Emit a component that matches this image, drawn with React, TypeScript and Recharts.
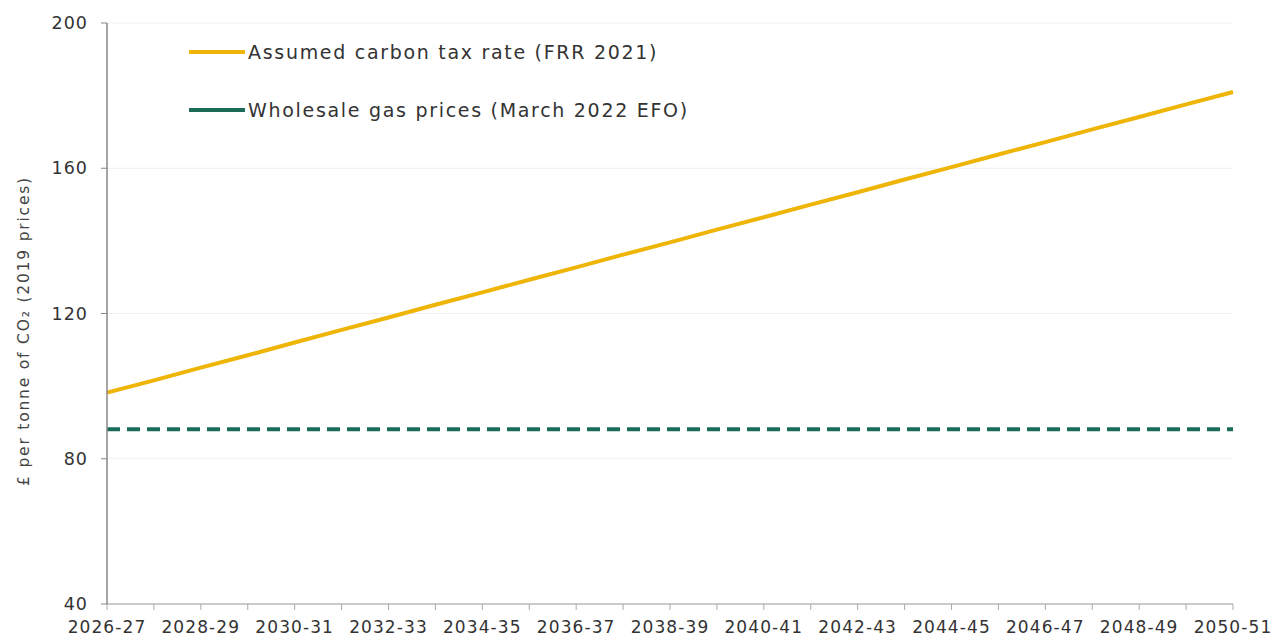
import React from "react";
import { LineChart, Line, XAxis, YAxis, CartesianGrid, Legend, Label } from "recharts";

const years = [
  "2026-27", "2027-28", "2028-29", "2029-30", "2030-31", "2031-32", "2032-33", "2033-34",
  "2034-35", "2035-36", "2036-37", "2037-38", "2038-39", "2039-40", "2040-41", "2041-42",
  "2042-43", "2043-44", "2044-45", "2045-46", "2046-47", "2047-48", "2048-49", "2049-50", "2050-51",
];
const carbonTax = [
  98.2, 101.6, 105.1, 108.5, 112.0, 115.5, 118.9, 122.4, 125.8, 129.3, 132.7, 136.2, 139.6,
  143.1, 146.5, 150.0, 153.4, 156.9, 160.3, 163.8, 167.2, 170.7, 174.1, 177.6, 181.0,
];
const gasPrices = [
  88.1, 88.1, 88.1, 88.1, 88.1, 88.1, 88.1, 88.1, 88.1, 88.1, 88.1, 88.1, 88.1,
  88.1, 88.1, 88.1, 88.1, 88.1, 88.1, 88.1, 88.1, 88.1, 88.1, 88.1, 88.1,
];
const yTicks = [40, 80, 120, 160, 200];

const data = years.map((y, i) => ({ year: y, carbon: carbonTax[i], gas: gasPrices[i] }));

const FONT = "'DejaVu Sans', sans-serif";

const XTick = (props: any) => {
  const { x, y, payload, index } = props;
  if (index % 2 !== 0) return null;
  return (
    <text
      x={x}
      y={y + 21}
      textAnchor="middle"
      fontFamily={FONT}
      fontSize={17}
      letterSpacing={1.1}
      fill="#333"
    >
      {payload.value}
    </text>
  );
};

const YTick = (props: any) => {
  const { x, y, payload } = props;
  return (
    <text
      x={x}
      y={y}
      textAnchor="end"
      dominantBaseline="central"
      fontFamily={FONT}
      fontSize={17.5}
      letterSpacing={1}
      fill="#333"
    >
      {payload.value}
    </text>
  );
};

const LegendContent = (props: any) => {
  const payload = props.payload && props.payload.length
    ? props.payload.map((p: any) => ({ label: p.value, color: p.color }))
    : [
        { label: "Assumed carbon tax rate (FRR 2021)", color: "#EEB406" },
        { label: "Wholesale gas prices (March 2022 EFO)", color: "#1B6B59" },
      ];
  return (
    <div
      style={{
        fontFamily: FONT,
        fontSize: 19,
        letterSpacing: 1.7,
        color: "#333",
        whiteSpace: "nowrap",
        width: 700,
      }}
    >
      {payload.map((it: any, i: number) => (
        <div key={i} style={{ display: "flex", alignItems: "center", height: 58 }}>
          <div style={{ width: 56, height: 4, flexShrink: 0, background: it.color, marginRight: 3 }} />
          <span>{it.label}</span>
        </div>
      ))}
    </div>
  );
};

const YLabel = () => (
  <text
    transform="translate(24,331) rotate(-90)"
    textAnchor="middle"
    dominantBaseline="central"
    fontFamily={FONT}
    fontSize={15.5}
    letterSpacing={1.8}
    fill="#444"
  >
    £ per tonne of CO₂ (2019 prices)
  </text>
);

export default function App() {
  return (
    <div style={{ position: "absolute", left: 0, top: 0, background: "#fff" }}>
      <LineChart width={1279} height={641} data={data} margin={{ top: 23, right: 46, left: 0, bottom: 0 }}>
        <CartesianGrid horizontal={true} vertical={false} stroke="#f0f0f0" />
        <XAxis
          dataKey="year"
          interval={0}
          tick={<XTick />}
          tickLine={{ stroke: "#aaa" }}
          axisLine={{ stroke: "#bbb", strokeWidth: 1.5 }}
          tickSize={6}
          height={37}
        />
        <YAxis
          domain={[40, 200]}
          ticks={yTicks}
          width={107}
          tick={<YTick />}
          tickLine={{ stroke: "#888" }}
          axisLine={{ stroke: "#888", strokeWidth: 1.5 }}
          tickSize={6}
          tickMargin={13}
        >
          <Label content={<YLabel />} />
        </YAxis>
        <Legend
          layout="vertical"
          verticalAlign="top"
          align="left"
          content={<LegendContent />}
          wrapperStyle={{ left: 189, top: 23, width: 0, height: 0, overflow: "visible" }}
        />
        <Line
          type="linear"
          dataKey="carbon"
          name="Assumed carbon tax rate (FRR 2021)"
          stroke="#EEB406"
          strokeWidth={4}
          dot={false}
          isAnimationActive={false}
        />
        <Line
          type="linear"
          dataKey="gas"
          name="Wholesale gas prices (March 2022 EFO)"
          stroke="#1B6B59"
          strokeWidth={4}
          strokeDasharray="13 7"
          dot={false}
          isAnimationActive={false}
        />
      </LineChart>
    </div>
  );
}
